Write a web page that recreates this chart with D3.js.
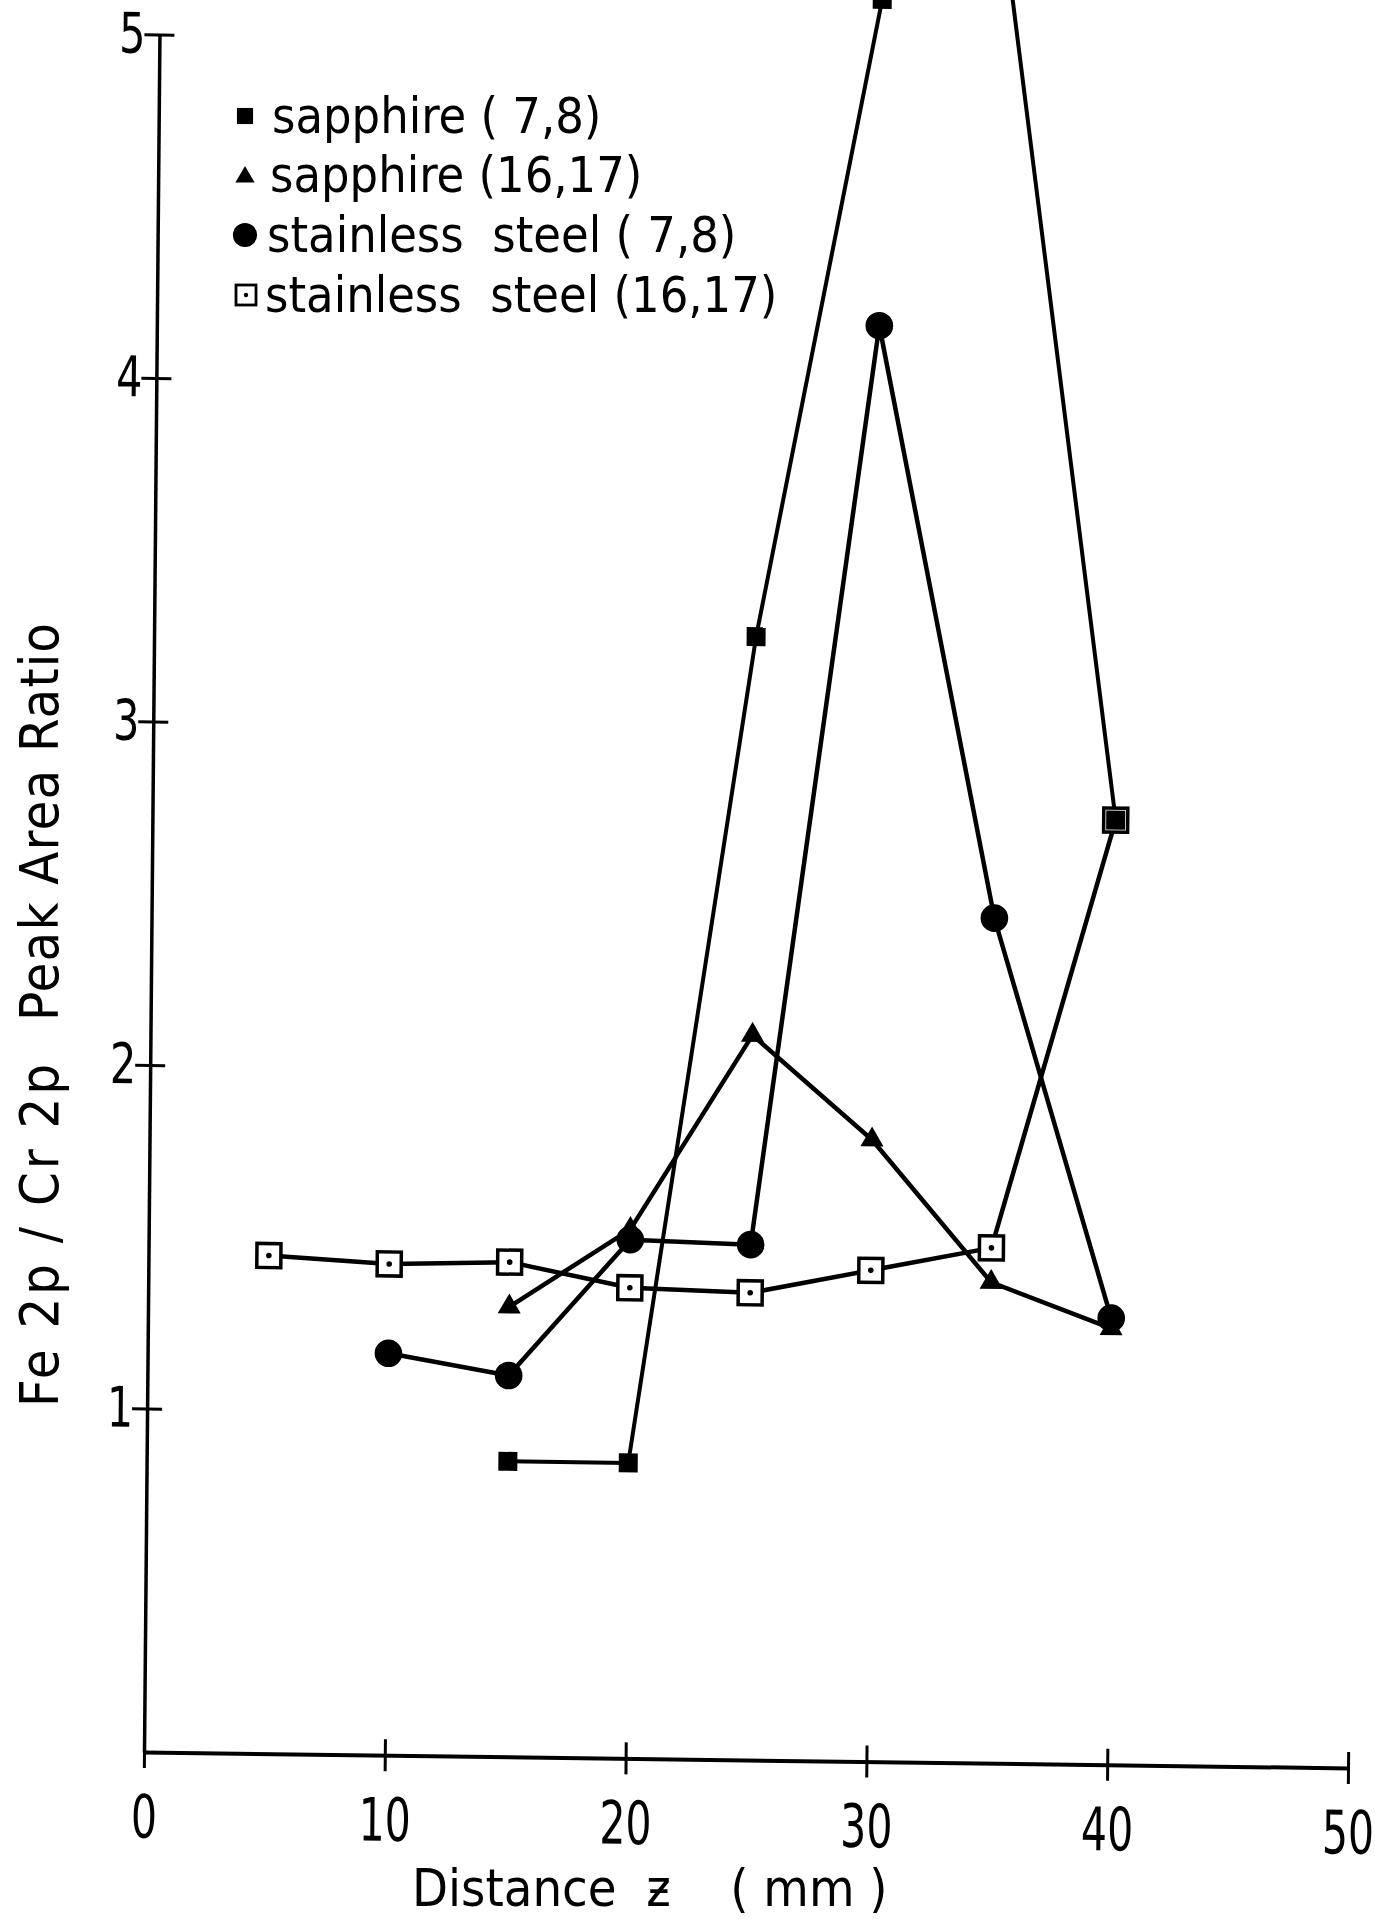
<!DOCTYPE html>
<html>
<head>
<meta charset="utf-8">
<script src="https://cdn.jsdelivr.net/npm/d3@7"></script>
<style>
  body { margin: 0; background: #fff; }
  svg { display: block; }
  text { font-family: "DejaVu Sans Condensed", "DejaVu Sans", sans-serif; fill: #000; }
</style>
</head>
<body>
<svg id="chart"></svg>
<script>
// values
var xTicks = [0, 10, 20, 30, 40, 50];
var yTicks = [1, 2, 3, 4, 5];

var sapphire78X = [15, 20, 25, 30, 35, 40];
var sapphire78Y = [0.86, 0.86, 3.27, 5.13, 5.35, 2.75];

var sapphire1617X = [15, 20, 25, 30, 35, 40];
var sapphire1617Y = [1.31, 1.54, 2.11, 1.81, 1.40, 1.27];

var steel78X = [10, 15, 20, 25, 30, 35, 40];
var steel78Y = [1.17, 1.11, 1.51, 1.50, 4.18, 2.46, 1.30];

var steel1617X = [5, 10, 15, 20, 25, 30, 35, 40];
var steel1617Y = [1.45, 1.43, 1.44, 1.37, 1.36, 1.43, 1.50, 2.75];

var legendLabels = ["sapphire ( 7,8)", "sapphire (16,17)", "stainless  steel ( 7,8)", "stainless  steel (16,17)"];
var xLabel = "Distance  \u01B6    ( mm )";
var yLabel1 = "Fe 2p / Cr 2p";
var yLabel2 = "Peak Area Ratio";

var width = 1375, height = 1919;
var ox = 144, oy = 1752;

var svg = d3.select("#chart")
    .attr("width", width)
    .attr("height", height);

var x = d3.scaleLinear().domain([0, 50]).range([ox, ox + 1204]);
var y = d3.scaleLinear().domain([0, 5]).range([oy, oy - 1717.5]);

// the scan is slightly skewed, so the plot frame is too
var plot = svg.append("g")
    .attr("transform", "translate(" + ox + "," + oy + ") matrix(1,0.0132,-0.009,1,0,0) translate(" + (-ox) + "," + (-oy) + ")");

// x axis
var xAxis = plot.append("g")
    .attr("transform", "translate(0," + oy + ")")
    .call(d3.axisBottom(x).tickValues(xTicks).tickFormat(d3.format("d")).tickSize(16).tickSizeOuter(0).tickPadding(27));
xAxis.attr("font-size", 60).attr("font-family", null);
xAxis.select(".domain").attr("stroke-width", 4);
xAxis.selectAll(".tick line")
    .attr("y1", function(d) { return d === 0 ? 0 : -16; })
    .attr("stroke-width", 3);
// the lettering of the figure is narrow
xAxis.selectAll(".tick text").attr("transform", "scale(0.76,1)");

// y axis
var yAxis = plot.append("g")
    .attr("transform", "translate(" + ox + ",0)")
    .call(d3.axisLeft(y).tickValues(yTicks).tickFormat(d3.format("d")).tickSize(15).tickSizeOuter(0).tickPadding(2));
yAxis.attr("font-size", 56).attr("font-family", null);
yAxis.select(".domain").attr("stroke-width", 3.5);
yAxis.selectAll(".tick line")
    .attr("x1", 15)
    .attr("stroke-width", 3);
yAxis.selectAll(".tick text").attr("transform", "scale(0.82,1)");

// lines
var line = d3.line()
    .x(function(d) { return x(d[0]); })
    .y(function(d) { return y(d[1]); });

var series = [
    { key: "steel1617", data: d3.zip(steel1617X, steel1617Y), w: 4.5 },
    { key: "sapphire78", data: d3.zip(sapphire78X, sapphire78Y), w: 4 },
    { key: "steel78", data: d3.zip(steel78X, steel78Y), w: 4.5 },
    { key: "sapphire1617", data: d3.zip(sapphire1617X, sapphire1617Y), w: 4.5 }
];

plot.selectAll(".series")
    .data(series)
    .enter().append("path")
    .attr("class", "series")
    .attr("d", function(d) { return line(d.data); })
    .attr("fill", "none")
    .attr("stroke", "#000")
    .attr("stroke-width", function(d) { return d.w; })
    .attr("stroke-linejoin", "round");

// open squares with a dot
var openSq = plot.selectAll(".osq")
    .data(series[0].data)
    .enter().append("g")
    .attr("class", "osq")
    .attr("transform", function(d) { return "translate(" + x(d[0]) + "," + y(d[1]) + ")"; });
openSq.append("rect")
    .attr("x", -12).attr("y", -12).attr("width", 24).attr("height", 24)
    .attr("fill", "#fff").attr("stroke", "#000").attr("stroke-width", 3.5);
openSq.append("circle").attr("r", 2.8).attr("fill", "#000");

function drawSymbols(data, type, size) {
    plot.append("g").selectAll("path")
        .data(data)
        .enter().append("path")
        .attr("transform", function(d) { return "translate(" + x(d[0]) + "," + y(d[1]) + ")"; })
        .attr("d", d3.symbol().type(type).size(size))
        .attr("fill", "#000");
}
drawSymbols(series[1].data, d3.symbolSquare, 360);
drawSymbols(series[2].data, d3.symbolCircle, 600);
drawSymbols(series[3].data, d3.symbolTriangle, 230);

// legend
var legendY = [116, 175, 235, 295];
var legendTextX = [272, 270, 267, 265];
var legend = svg.append("g");
legend.append("path")
    .attr("transform", "translate(245," + legendY[0] + ")")
    .attr("d", d3.symbol().type(d3.symbolSquare).size(260));
legend.append("path")
    .attr("transform", "translate(245," + (legendY[1] + 2) + ")")
    .attr("d", d3.symbol().type(d3.symbolTriangle).size(160));
legend.append("path")
    .attr("transform", "translate(245," + legendY[2] + ")")
    .attr("d", d3.symbol().type(d3.symbolCircle).size(460));
var lg4 = legend.append("g").attr("transform", "translate(246," + legendY[3] + ")");
lg4.append("rect")
    .attr("x", -10).attr("y", -10).attr("width", 20).attr("height", 20)
    .attr("fill", "#fff").attr("stroke", "#000").attr("stroke-width", 2.8);
lg4.append("circle").attr("r", 2.2).attr("fill", "#000");

legend.selectAll("text")
    .data(legendLabels)
    .enter().append("text")
    .attr("x", function(d, i) { return legendTextX[i]; })
    .attr("y", function(d, i) { return legendY[i] + 17; })
    .attr("font-size", 50)
    .style("white-space", "pre")
    .text(function(d) { return d; });

// axis titles
svg.append("text")
    .attr("x", 412)
    .attr("y", 1906)
    .attr("font-size", 52)
    .style("white-space", "pre")
    .text(xLabel);

var yTitle = svg.append("g").attr("transform", "translate(58,1407) rotate(-90)");
yTitle.append("text").attr("x", 0).attr("font-size", 54)
    .attr("textLength", 343).attr("lengthAdjust", "spacing").text(yLabel1);
yTitle.append("text").attr("x", 386).attr("font-size", 54)
    .attr("textLength", 398).attr("lengthAdjust", "spacing").text(yLabel2);
</script>
</body>
</html>
